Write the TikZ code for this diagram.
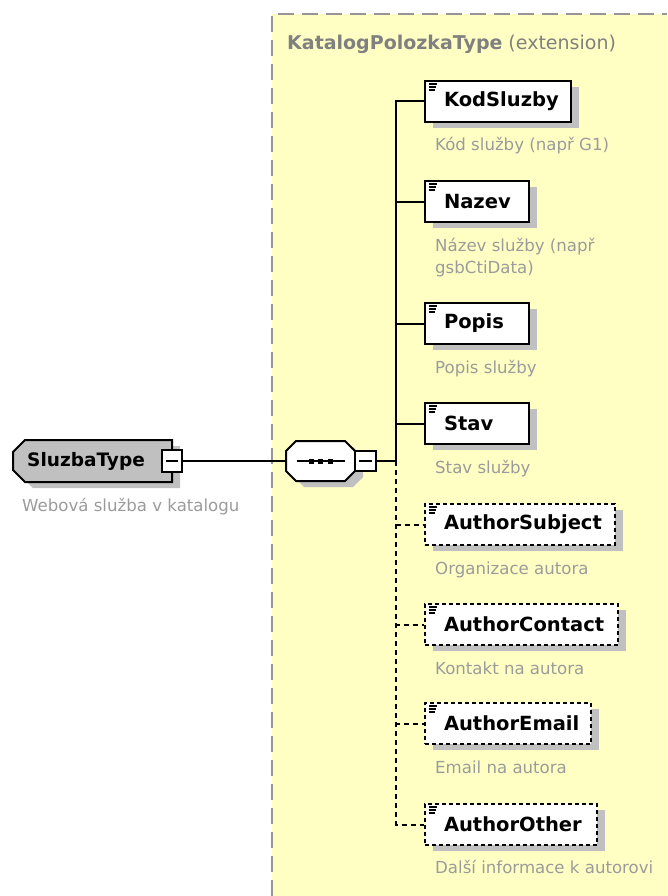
\documentclass[tikz,border=0pt]{standalone}
\usepackage{fontspec}
\setmainfont{DejaVu Sans}
\definecolor{bgyellow}{RGB}{255,255,196}
\definecolor{bordergray}{RGB}{150,150,150}
\definecolor{descgray}{RGB}{155,155,155}
\definecolor{titlegray}{RGB}{128,128,128}
\definecolor{typegray}{RGB}{192,192,192}
\definecolor{shadowgray}{RGB}{192,192,192}
\newcommand\elname[2]{\makebox[#1pt][l]{\hspace{19pt}#2}}
\begin{document}
\begin{tikzpicture}[x=1pt,y=-1pt,
  shadowed/.style={preaction={fill=shadowgray, transform canvas={xshift=8pt,yshift=-6pt}}},
  elbox/.style={draw=black, line width=2pt, fill=white, rectangle, minimum height=41pt,
    inner sep=0pt, anchor=north west, font=\fontsize{19.5}{23}\selectfont\bfseries, shadowed},
  optbox/.style={elbox, dash pattern=on 4pt off 3pt},
  desc/.style={anchor=base west, text=descgray, font=\fontsize{16.6}{22}\selectfont, inner sep=0pt, align=left},
  conn/.style={line width=2pt},
  optconn/.style={conn, dash pattern=on 5pt off 4pt},
  minusbox/.style={draw=black, line width=1.6pt, fill=white, inner sep=0pt,
    path picture={\draw[line width=1.6pt] ([xshift=4pt]path picture bounding box.west) -- ([xshift=-4pt]path picture bounding box.east);}},
  icon/.style={line width=1.2pt}
]
\useasboundingbox (0,0) rectangle (667,896);
% extension background
\fill[bgyellow] (272,14) rectangle (667,896);
\draw[bordergray, line width=2pt, dash pattern=on 16pt off 8pt] (272,896) -- (272,14) -- (667,14);
\node[anchor=base west, inner sep=0pt, text=titlegray, font=\fontsize{19}{23}\selectfont] (title) at (287,50)
  {\bfseries KatalogPolozkaType\mdseries\ (extension)};

% SluzbaType
\fill[shadowgray] (21,458) -- (33,446) -- (180,446) -- (180,488) -- (33,488) -- (21,476) -- cycle;
\draw[line width=2pt, fill=typegray] (13,452) -- (25,440) -- (172,440) -- (172,482) -- (25,482) -- (13,470) -- cycle;
\node[anchor=west, inner sep=0pt, font=\fontsize{18.5}{22}\selectfont\bfseries] (sluzba) at (27,461) {SluzbaType};
\node[minusbox, minimum width=20pt, minimum height=22pt] (sluzbaminus) at (172,461) {};
\node[desc] (sluzbadesc) at (22,511) {Webová služba v katalogu};

% sequence compositor
\node[inner sep=0pt, minimum width=69pt, minimum height=40pt] (seq) at (320.5,461) {};
\fill[shadowgray] (294,457) -- (304,447) -- (353,447) -- (363,457) -- (363,477) -- (353,487) -- (304,487) -- (294,477) -- cycle;
\draw[line width=2pt, fill=white] (286,451) -- (296,441) -- (345,441) -- (355,451) -- (355,471) -- (345,481) -- (296,481) -- (286,471) -- cycle;
\draw[line width=1.6pt] (297,461) -- (345,461);
\foreach \dx in {311,320.5,330} \fill (\dx-2.5,458.5) rectangle (\dx+2.5,463.5);
\node[minusbox, minimum width=21pt, minimum height=20pt] (seqminus) at (365.5,461) {};

\draw[conn] (sluzbaminus.east) -- (seq.west);
\coordinate (trunkmid) at (396,461);
\draw[conn] (seqminus.east) -- (trunkmid);

% elements
\node[elbox] (kod)     at (424,80)  {\elname{146}{KodSluzby}};
\node[elbox] (nazev)   at (424,180) {\elname{104}{Nazev}};
\node[elbox] (popis)   at (424,302) {\elname{104}{Popis}};
\node[elbox] (stav)    at (424,402) {\elname{104}{Stav}};
\node[optbox] (subject) at (424,503) {\elname{190}{AuthorSubject}};
\node[optbox] (contact) at (424,603) {\elname{193}{AuthorContact}};
\node[optbox] (email)   at (424,702) {\elname{166}{AuthorEmail}};
\node[optbox] (other)   at (424,803) {\elname{172}{AuthorOther}};

\foreach \n in {kod,nazev,popis,stav,subject,contact,email,other}{
  \draw[icon] ([xshift=5pt,yshift=-4pt]\n.north west) -- ++(8,0);
  \draw[icon] ([xshift=5pt,yshift=-7pt]\n.north west) -- ++(7,0);
  \draw[icon] ([xshift=5pt,yshift=-10pt]\n.north west) -- ++(6,0);
}

% connectors
\foreach \n in {kod,nazev,popis,stav} \draw[conn] (trunkmid) |- (\n.west);
\foreach \n in {subject,contact,email,other} \draw[optconn] (trunkmid) |- (\n.west);

% descriptions
\node[desc] (kodd)     at (435,151) {Kód služby (např G1)};
\node[desc] (nazevd)   at (435,273) {Název služby (např\\gsbCtiData)};
\node[desc] (popisd)   at (435,373) {Popis služby};
\node[desc] (stavd)    at (435,473) {Stav služby};
\node[desc] (subjectd) at (435,574) {Organizace autora};
\node[desc] (contactd) at (435,674) {Kontakt na autora};
\node[desc] (emaild)   at (435,773) {Email na autora};
\node[desc] (otherd)   at (435,873) {Další informace k autorovi};
\end{tikzpicture}
\end{document}
